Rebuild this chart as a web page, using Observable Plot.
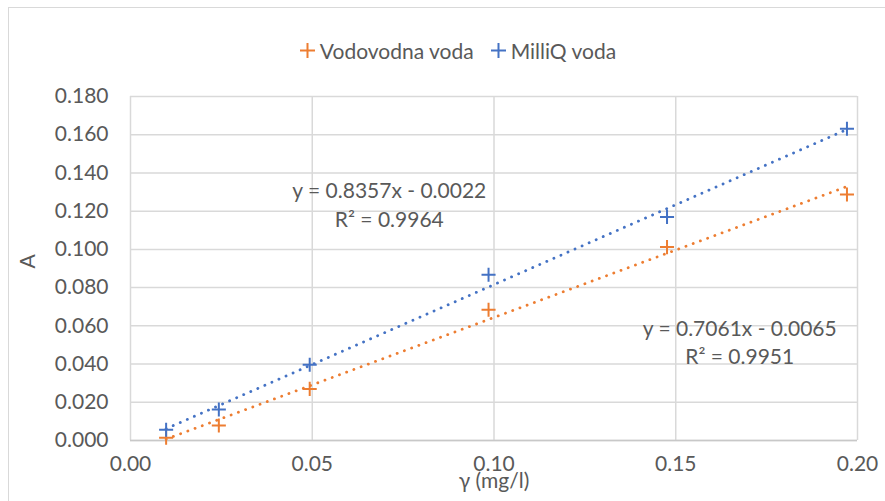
<!DOCTYPE html>
<html>
<head>
<meta charset="utf-8">
<script src="https://cdn.jsdelivr.net/npm/d3@7"></script>
<script src="https://cdn.jsdelivr.net/npm/@observablehq/plot@0.6"></script>
<style>
  html, body { margin: 0; padding: 0; background: #fff; }
  #wrap { position: relative; width: 885px; height: 501px; overflow: hidden; font-family: Lato, "Open Sans", sans-serif; }
  #border { position: absolute; left: 8px; top: 7px; width: 900px; height: 520px; border: 1.5px solid #d9d9d9; box-sizing: border-box; }
  #legend { position: absolute; top: 38px; left: 0; width: 916px; display: flex; justify-content: center; gap: 17px; color: #595959; font-size: 21px; }
  #legend .item { display: flex; align-items: center; gap: 5px; }
  #chart { position: absolute; left: 0; top: 0; }
</style>
</head>
<body>
<div id="wrap">
  <div id="border"></div>
  <div id="chart"></div>
  <div id="legend"></div>
</div>
<script>
// Data
const seriesNames = ["Vodovodna voda", "MilliQ voda"];
const seriesColors = ["#ED7D31", "#4472C4"];
const concentration = [0.0098, 0.0243, 0.0493, 0.0985, 0.1476, 0.1971];
const vodovodnaA = [0.0014, 0.0078, 0.0270, 0.0684, 0.1012, 0.1287];
const milliqA = [0.0056, 0.0162, 0.0396, 0.0867, 0.1169, 0.1631];
const xTicks = [0, 0.05, 0.10, 0.15, 0.20];
const yTicks = [0, 0.02, 0.04, 0.06, 0.08, 0.10, 0.12, 0.14, 0.16, 0.18];
const equationLabels = [
  {series: "MilliQ voda", text: "y = 0.8357x - 0.0022\nR² = 0.9964", x: 0.0712, y: 0.1240},
  {series: "Vodovodna voda", text: "y = 0.7061x - 0.0065\nR² = 0.9951", x: 0.1676, y: 0.0520}
];

const rows = [];
concentration.forEach((c, i) => {
  rows.push({series: "Vodovodna voda", x: c, y: vodovodnaA[i]});
  rows.push({series: "MilliQ voda", x: c, y: milliqA[i]});
});

const gray = "#595959";
const fs = 21;
const chart = Plot.plot({
  width: 885,
  height: 501,
  marginLeft: 130,
  marginRight: 28,
  marginTop: 96,
  marginBottom: 61,
  style: {fontFamily: "Lato, 'Open Sans', sans-serif", fontSize: fs + "px", color: gray, background: "transparent", overflow: "visible"},
  x: {domain: [0, 0.20], ticks: xTicks, tickFormat: d3.format(".2f"), tickSize: 0, tickPadding: 16, label: null},
  y: {domain: [0, 0.18], ticks: yTicks, tickFormat: d3.format(".3f"), tickSize: 0, tickPadding: 22, label: null},
  color: {domain: seriesNames, range: seriesColors},
  marks: [
    Plot.gridX(xTicks, {stroke: "#d9d9d9", strokeOpacity: 1, strokeWidth: 1.5}),
    Plot.gridY(yTicks, {stroke: "#d9d9d9", strokeOpacity: 1, strokeWidth: 1.5}),
    Plot.ruleY([0], {stroke: "#c8c8c8", strokeWidth: 1.5}),
    Plot.axisX({ticks: xTicks, tickFormat: d3.format(".2f"), tickSize: 0, tickPadding: 16, fill: gray, fontSize: fs}),
    Plot.axisY({ticks: yTicks, tickFormat: d3.format(".3f"), tickSize: 0, tickPadding: 22, fill: gray, fontSize: fs}),
    Plot.linearRegressionY(rows, {x: "x", y: "y", stroke: "series", ci: 0, strokeWidth: 2.8, strokeDasharray: "0.1 7.6", strokeLinecap: "round"}),
    Plot.dot(rows, {x: "x", y: "y", stroke: "series", symbol: "plus", r: 4.6, strokeWidth: 2}),
    Plot.text(equationLabels, {x: "x", y: "y", text: "text", fill: gray, fontSize: fs, lineHeight: 1.35, textAnchor: "middle"}),
    Plot.text(["γ (mg/l)"], {frameAnchor: "bottom", dy: 47, fill: gray, fontSize: fs}),
    Plot.text(["A"], {frameAnchor: "left", dx: -102, rotate: -90, fill: gray, fontSize: fs})
  ]
});
document.getElementById("chart").appendChild(chart);

const legend = document.getElementById("legend");
seriesNames.forEach((name, i) => {
  const item = document.createElement("div");
  item.className = "item";
  item.innerHTML = `<svg width="15" height="15" viewBox="0 0 15 15"><path d="M0,7.5H15M7.5,0V15" stroke="${seriesColors[i]}" stroke-width="2"/></svg><span>${name}</span>`;
  legend.appendChild(item);
});
</script>
</body>
</html>
